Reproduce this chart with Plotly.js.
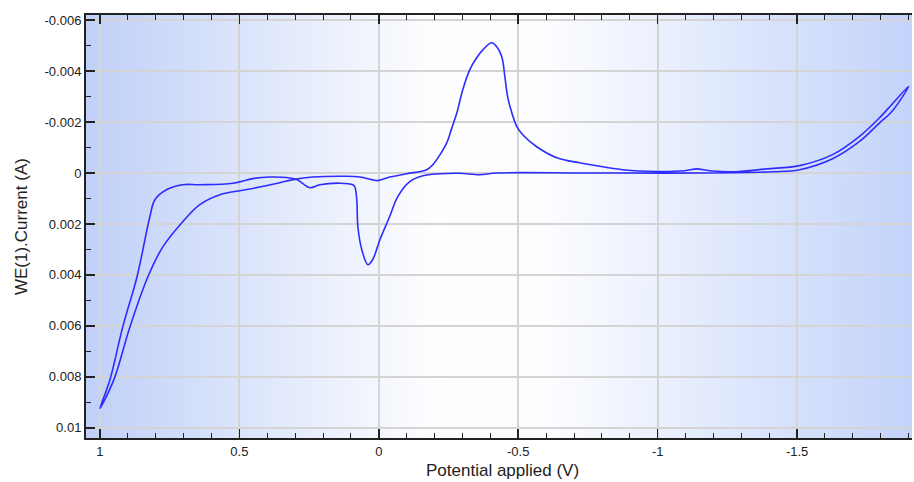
<!DOCTYPE html>
<html>
<head>
<meta charset="utf-8">
<script src="https://cdn.plot.ly/plotly-3.0.1.min.js"></script>
<style>
  html, body { margin: 0; padding: 0; background: #ffffff; }
  #chart { width: 914px; height: 482px; }
</style>
</head>
<body>
<div id="chart"></div>
<script>
// Potential (V) along the cyclic voltammogram loop
const potential = [
  1.0, 0.950, 0.892, 0.828, 0.774, 0.703, 0.642, 0.570, 0.473, 0.355, 0.308, 0.237,
  0.115, 0.068, 0.025, 0.004, -0.039, -0.100, -0.172, -0.194, -0.219, -0.244, -0.262,
  -0.280, -0.301, -0.326, -0.351, -0.373, -0.405, -0.423, -0.441, -0.452, -0.462,
  -0.477, -0.495, -0.516, -0.566, -0.638, -0.720, -0.756,
  -0.875, -0.996, -1.097, -1.140, -1.186, -1.276, -1.391, -1.509, -1.627, -1.724,
  -1.796, -1.839, -1.900,
  -1.839, -1.796, -1.724, -1.627, -1.509, -1.412, -1.151, -0.864, -0.720, -0.423,
  -0.362, -0.290, -0.219, -0.158, -0.111, -0.068, -0.039, -0.004, 0.022, 0.039,
  0.061, 0.075, 0.079, 0.086, 0.093, 0.140, 0.211, 0.247, 0.294, 0.330, 0.391,
  0.452, 0.523, 0.642, 0.703, 0.760, 0.803, 0.821, 0.867, 0.918, 0.964, 1.0
];
// Current WE(1) (A)
const current = [
  0.00924, 0.00811, 0.00602, 0.00407, 0.00289, 0.00191, 0.00124, 0.00085, 0.00065,
  0.00038, 0.00026, 0.00016, 0.00013, 0.00016, 0.00026, 0.00030, 0.00016, 0.00003,
  -0.00013, -0.00033, -0.00071, -0.00119, -0.00177, -0.00236, -0.00327, -0.00405,
  -0.00452, -0.00483, -0.00511, -0.00495, -0.00456, -0.00378, -0.00299, -0.00236,
  -0.00182, -0.00150, -0.00103, -0.00060, -0.00040, -0.00033,
  -0.00013, -0.00006, -0.00009, -0.00016, -0.00009, -0.00005, -0.00016, -0.00029,
  -0.00072, -0.00144, -0.00217, -0.00268, -0.00340,
  -0.00240, -0.00197, -0.00124, -0.00056, -0.00013, -0.00005, 0.00000, 0.00000,
  0.00000, 0.00000, 0.00007, 0.00001, 0.00003, 0.00011, 0.00034, 0.00093, 0.00171,
  0.00262, 0.00340, 0.00360, 0.00301, 0.00211, 0.00105, 0.00054, 0.00046, 0.00040,
  0.00046, 0.00058, 0.00026, 0.00018, 0.00016, 0.00022, 0.00040, 0.00046, 0.00046,
  0.00065, 0.00105, 0.00172, 0.00407, 0.00603, 0.00811, 0.00924
];
const xTickVals = [1, 0.5, 0, -0.5, -1, -1.5];
const xTickText = ["1", "0.5", "0", "-0.5", "-1", "-1.5"];
const yTickVals = [-0.006, -0.004, -0.002, 0, 0.002, 0.004, 0.006, 0.008, 0.01];
const yTickText = ["-0.006", "-0.004", "-0.002", "0", "0.002", "0.004", "0.006", "0.008", "0.01"];
const xTitle = 'Potential applied (V)';
const yTitle = 'WE(1).Current (A)';

// gradient background image
function gradientURL() {
  const c = document.createElement('canvas');
  c.width = 400; c.height = 4;
  const g = c.getContext('2d');
  const grd = g.createLinearGradient(0, 0, 400, 0);
  grd.addColorStop(0, 'rgb(192,208,248)');
  grd.addColorStop(0.42, 'rgb(254,254,255)');
  grd.addColorStop(0.56, 'rgb(252,253,255)');
  grd.addColorStop(1, 'rgb(195,211,250)');
  g.fillStyle = grd;
  g.fillRect(0, 0, 400, 4);
  return c.toDataURL();
}

const fam = 'Liberation Sans, Arial, sans-serif';
const font = { family: fam, size: 13, color: '#222' };
const titleFont = { family: fam, size: 17, color: '#222' };

const trace = {
  x: potential, y: current, type: 'scatter', mode: 'lines',
  line: { color: 'rgb(45,45,255)', width: 1.6, shape: 'spline', smoothing: 1 },
  hoverinfo: 'x+y'
};

const layout = {
  width: 914, height: 482,
  margin: { l: 86, r: 2, t: 15, b: 44 },
  paper_bgcolor: '#ffffff',
  plot_bgcolor: 'rgba(0,0,0,0)',
  showlegend: false,
  font: font,
  images: [{
    source: gradientURL(), xref: 'paper', yref: 'paper',
    x: 0, y: 1, sizex: 1, sizey: 1, sizing: 'stretch',
    xanchor: 'left', yanchor: 'top', layer: 'below'
  }],
  annotations: [
    { text: xTitle, xref: 'paper', yref: 'paper', x: 0.504, y: -0.078,
      xanchor: 'center', yanchor: 'middle', showarrow: false, font: titleFont },
    { text: yTitle, xref: 'paper', yref: 'paper', x: -0.078, y: 0.5, textangle: -90,
      xanchor: 'center', yanchor: 'middle', showarrow: false, font: titleFont }
  ],
  xaxis: {
    range: [1.05, -1.912], autorange: false,
    tickmode: 'array', tickvals: xTickVals, ticktext: xTickText,
    ticks: 'inside', ticklen: 9, tickwidth: 1.5, tickcolor: '#222',
    minor: { dtick: 0.1, ticks: 'inside', ticklen: 5, tickcolor: '#222', tickwidth: 1, showgrid: false },
    showline: true, linecolor: '#222', linewidth: 2, mirror: 'ticks',
    showgrid: true, gridcolor: '#d4d4d4', gridwidth: 2,
    zeroline: false,
    tickfont: font
  },
  yaxis: {
    range: [0.0104, -0.0062], autorange: false,
    tickmode: 'array', tickvals: yTickVals, ticktext: yTickText,
    ticks: 'inside', ticklen: 9, tickwidth: 1.5, tickcolor: '#222',
    minor: { dtick: 0.001, ticks: 'inside', ticklen: 5, tickcolor: '#222', tickwidth: 1, showgrid: false },
    showline: true, linecolor: '#222', linewidth: 2, mirror: false,
    showgrid: true, gridcolor: '#d4d4d4', gridwidth: 2,
    zeroline: false,
    tickfont: font
  }
};

Plotly.newPlot('chart', [trace], layout, { displayModeBar: false, staticPlot: true });
</script>
</body>
</html>
